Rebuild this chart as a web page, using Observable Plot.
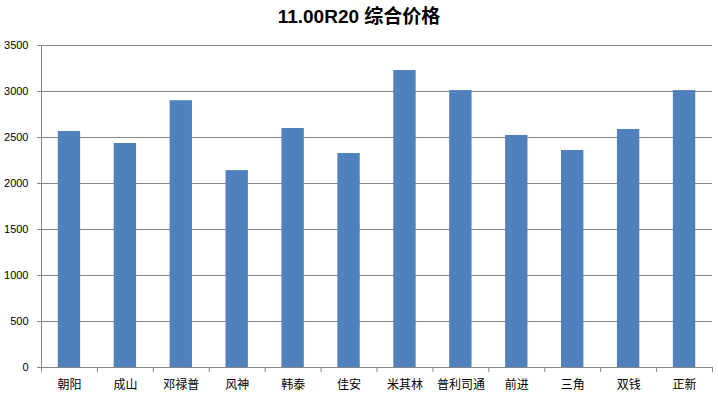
<!DOCTYPE html>
<html>
<head>
<meta charset="utf-8">
<script src="https://cdn.jsdelivr.net/npm/d3@7"></script>
<script src="https://cdn.jsdelivr.net/npm/@observablehq/plot@0.6"></script>
<style>
  html, body { margin: 0; padding: 0; background: #fff; }
  #title { width: 718px; height: 36px; line-height: 34px; text-align: center;
    font-family: "Liberation Sans", "Noto Sans CJK SC", sans-serif; font-weight: bold; font-size: 19px; color: #000; }
  #chart svg { display: block; }
</style>
</head>
<body>
<div id="title">11.00R20 综合价格</div>
<div id="chart"></div>
<script>
const brands = ["朝阳", "成山", "邓禄普", "风神", "韩泰", "佳安", "米其林", "普利司通", "前进", "三角", "双钱", "正新"];
const prices = [2565, 2435, 2900, 2140, 2598, 2326, 3228, 3010, 2522, 2359, 2587, 3010];
const yTicks = [0, 500, 1000, 1500, 2000, 2500, 3000, 3500];

const data = brands.map((b, i) => ({brand: b, price: prices[i]}));

const W = 718, H = 361, mL = 41, mR = 6, mT = 9, mB = 30;
const step = (W - mL - mR) / brands.length;
const gray = "#868686";

const chart = Plot.plot({
  width: W, height: H,
  marginLeft: mL, marginRight: mR, marginTop: mT, marginBottom: mB,
  style: {fontFamily: "'Noto Sans CJK SC', 'Liberation Sans', sans-serif", color: "#000", background: "#fff"},
  x: {domain: brands, paddingInner: 0.6, paddingOuter: 0.3, align: 0.5, round: false, label: null},
  y: {domain: [0, 3500], ticks: yTicks, label: null},
  marks: [
    Plot.gridY(yTicks, {stroke: gray, strokeOpacity: 1, strokeWidth: 1}),
    Plot.barY(data, {x: "brand", y: "price", fill: "#4F81BD"}),
    Plot.ruleX(brands, {x: d => d, dx: -step / 2, y1: 0, insetBottom: -5, stroke: gray}),
    Plot.ruleX(brands.slice(-1), {x: d => d, dx: step / 2, y1: 0, insetBottom: -5, stroke: gray}),
    Plot.ruleY([0], {stroke: gray}),
    Plot.axisY({ticks: yTicks, tickSize: 4, tickPadding: 9, fontSize: 11, stroke: gray, tickFormat: d => String(d), fontFamily: "'Liberation Sans', sans-serif"}),
    Plot.ruleX([brands[0]], {x: d => d, dx: -step / 2, y1: 0, y2: 3500, stroke: gray}),
    Plot.axisX({tickSize: 0, tickPadding: 13, fontSize: 12})
  ]
});
document.getElementById("chart").appendChild(chart);
</script>
</body>
</html>
